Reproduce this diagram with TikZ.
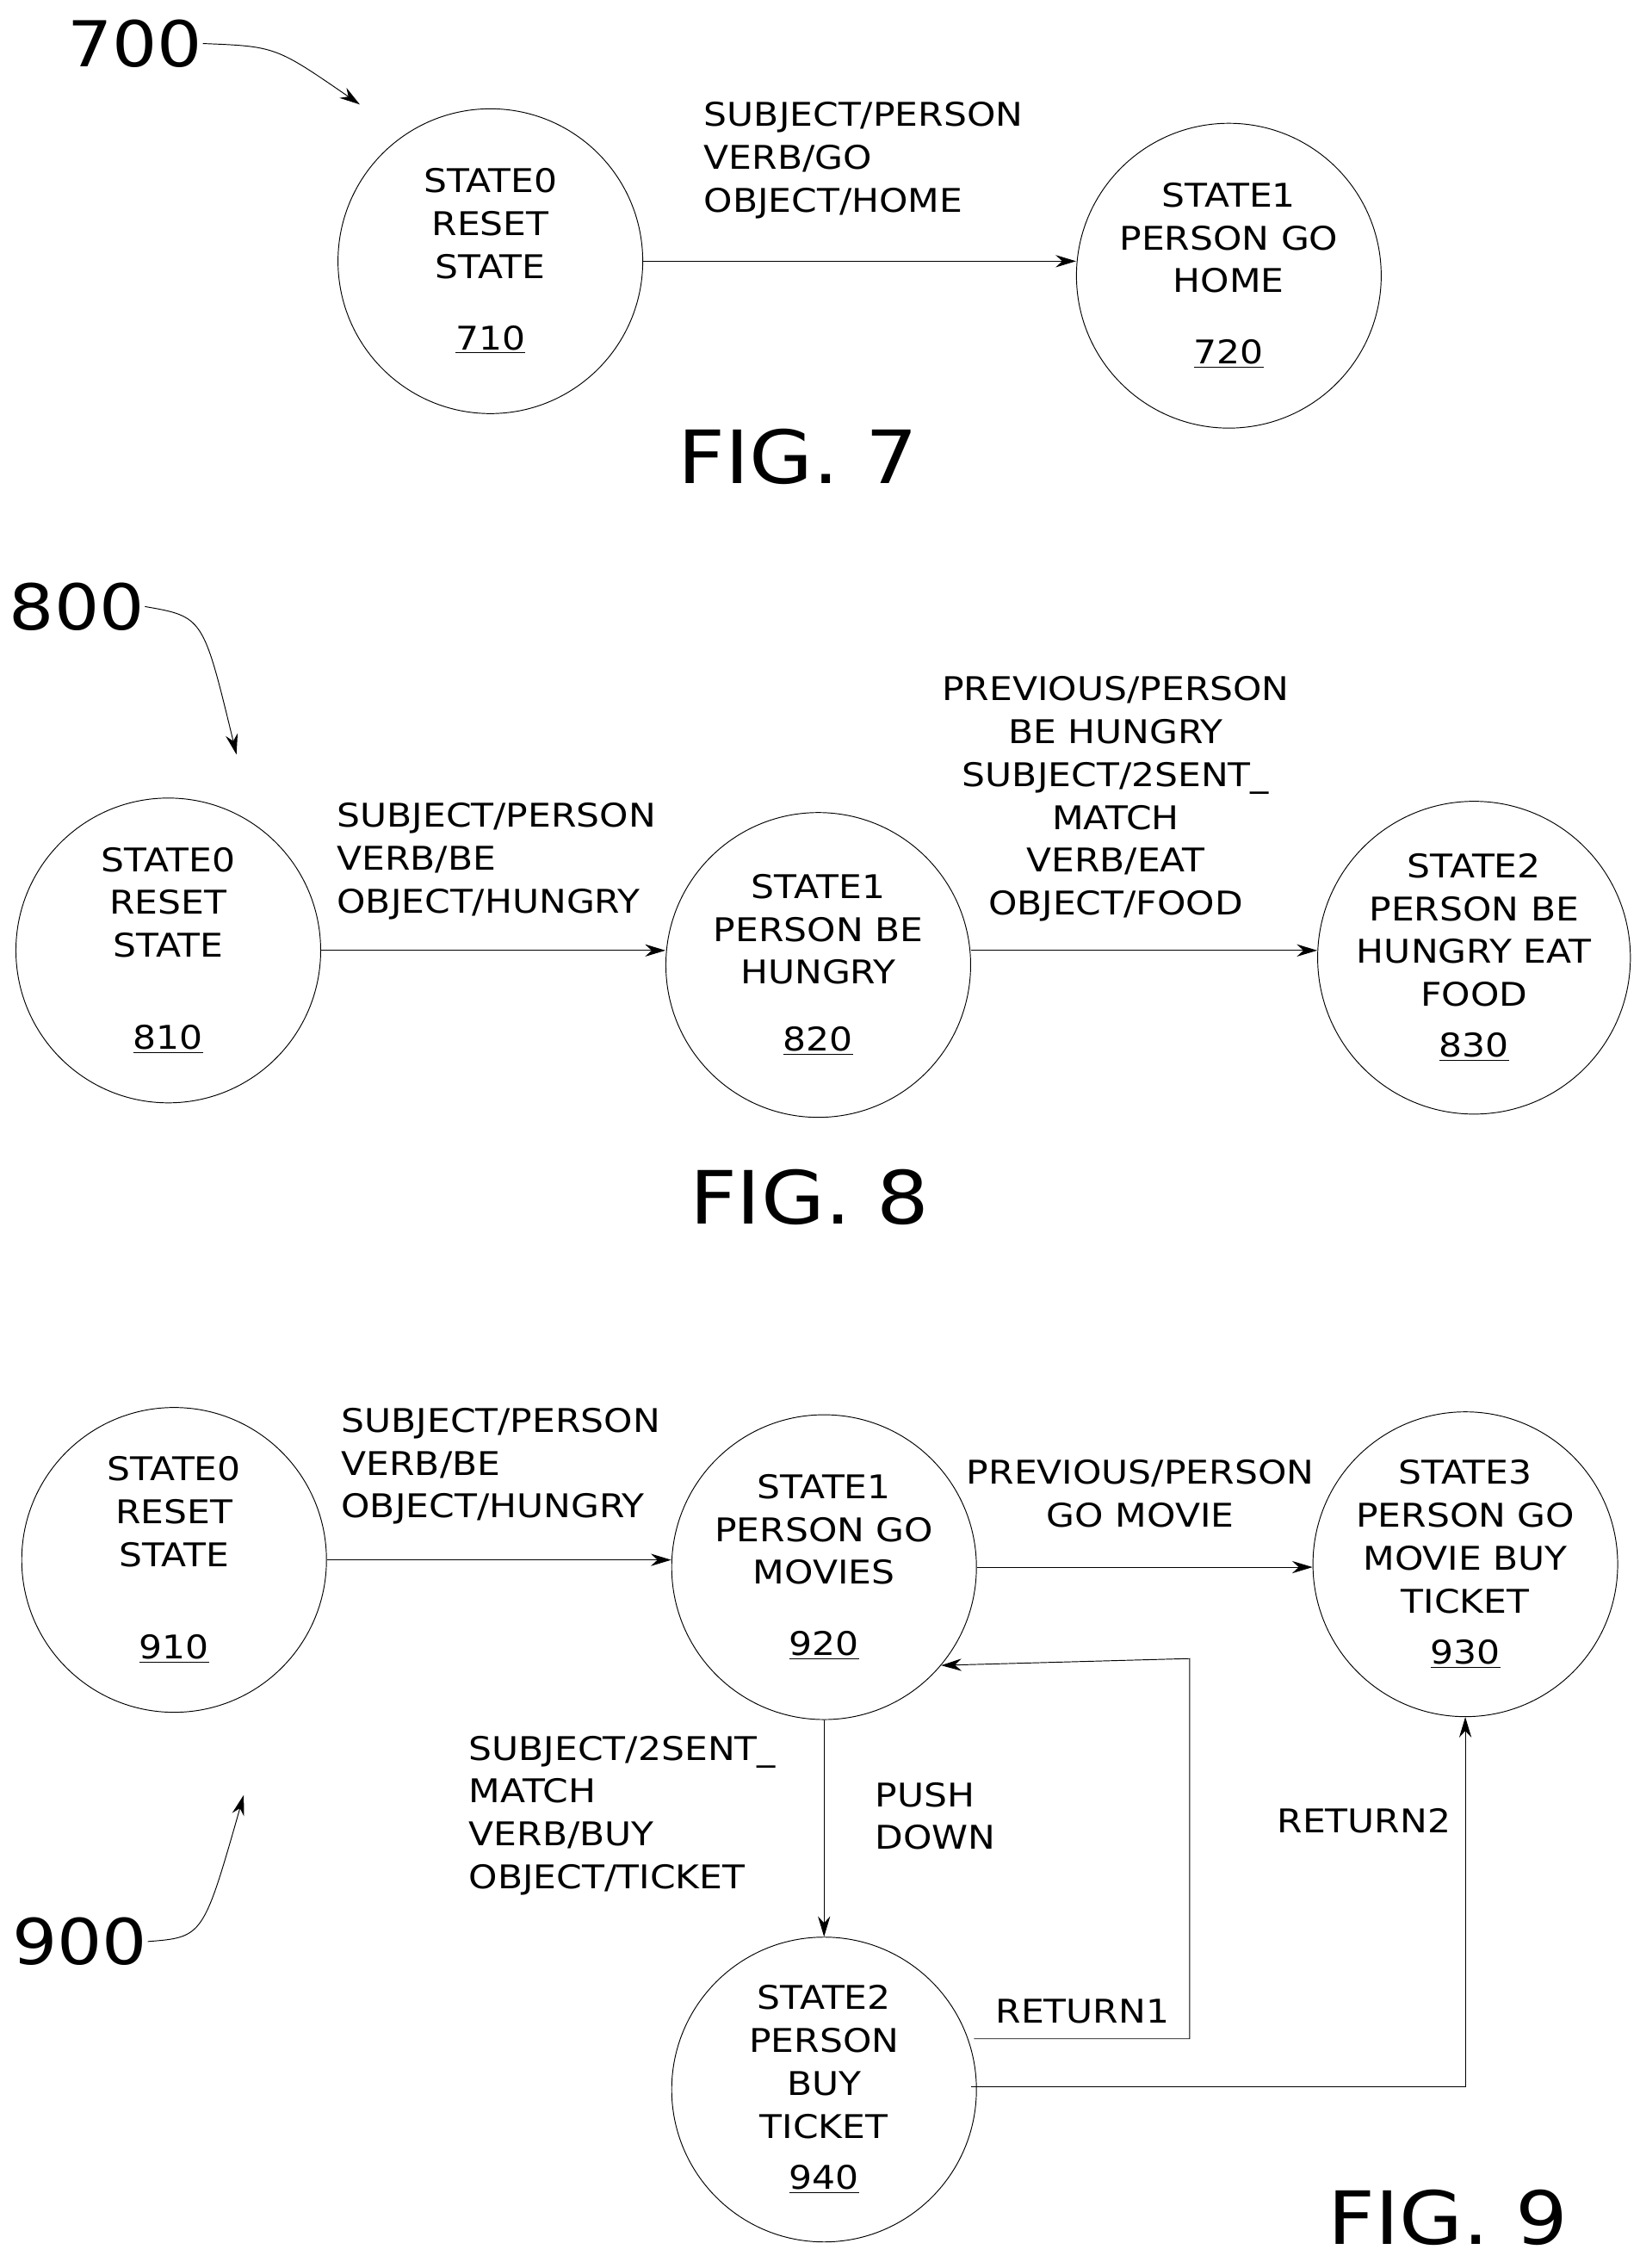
\documentclass[tikz,border=0pt]{standalone}
\usepackage{fontspec}
\setmainfont[FakeStretch=1.12]{DejaVu Sans}
\usetikzlibrary{arrows.meta}
\tikzset{
  state/.style = {circle, draw, thin, minimum size=5.25cm, inner sep=0pt, align=center, font=\fontsize{16}{21}\selectfont},
  lbl/.style = {align=left, inner sep=0pt, font=\fontsize{16}{21}\selectfont},
  trans/.style = {draw, thin, -{Stealth[length=10pt,width=6pt]}},
  fig/.style = {inner sep=0pt, font=\fontsize{36}{40}\selectfont},
  refnum/.style = {inner sep=0pt, font=\fontsize{31}{34}\selectfont}
}
\begin{document}
\begin{tikzpicture}[x=0.025cm, y=-0.025cm]
\useasboundingbox (0,0) rectangle (1130,1563);
% FIG. 7
\node[refnum] (n700) at (93,30) {700};
\node[state] (s710) at (338,180) {STATE0\\RESET\\STATE\\[14pt]\underline{710}};
\node[state] (s720) at (847,190) {STATE1\\PERSON GO\\HOME\\[14pt]\underline{720}};
\node[lbl, anchor=north west] (t71) at (485,70) {SUBJECT/PERSON\\VERB/GO\\OBJECT/HOME};
\node[fig] (f7) at (550,315) {FIG. 7};
\coordinate (p700) at (248,72);
\path[trans] (s710) -- (s710 -| s720.west);
\draw[thin, -{Stealth[length=10pt,width=6pt]}] (n700.east) .. controls (190,32) .. (p700);
% FIG. 8
\node[refnum] (n800) at (53,418) {800};
\node[state] (s810) at (116,655) {STATE0\\RESET\\STATE\\[24pt]\underline{810}};
\node[state] (s820) at (564,665) {STATE1\\PERSON BE\\HUNGRY\\[12pt]\underline{820}};
\node[state] (s830) at (1016,660) {STATE2\\PERSON BE\\HUNGRY EAT\\FOOD\\[4pt]\underline{830}};
\node[lbl, anchor=north west] (t81) at (232,553) {SUBJECT/PERSON\\VERB/BE\\OBJECT/HUNGRY};
\node[lbl, align=center, anchor=north] (t82) at (769,466) {PREVIOUS/PERSON\\BE HUNGRY\\SUBJECT/2SENT\_\\MATCH\\VERB/EAT\\OBJECT/FOOD};
\node[fig] (f8) at (558,825) {FIG. 8};
\coordinate (p800) at (163,520);
\path[trans] (s810) -- (s810 -| s820.west);
\path[trans] (s810 -| s820.east) -- (s810 -| s830.west);
\draw[thin, -{Stealth[length=10pt,width=6pt]}] (n800.east) .. controls (140,425) .. (p800);
% FIG. 9
\node[refnum] (n900) at (55,1338) {900};
\node[state] (s910) at (120,1075) {STATE0\\RESET\\STATE\\[24pt]\underline{910}};
\node[state] (s920) at (568,1080) {STATE1\\PERSON GO\\MOVIES\\[14pt]\underline{920}};
\node[state] (s930) at (1010,1078) {STATE3\\PERSON GO\\MOVIE BUY\\TICKET\\[4pt]\underline{930}};
\node[state] (s940) at (568,1440) {STATE2\\PERSON\\BUY\\TICKET\\[4pt]\underline{940}};
\node[lbl, anchor=north west] (t91) at (235,970) {SUBJECT/PERSON\\VERB/BE\\OBJECT/HUNGRY};
\node[lbl, align=center, anchor=north] (t92) at (786,1006) {PREVIOUS/PERSON\\GO MOVIE};
\node[lbl, anchor=north west] (t93) at (323,1196) {SUBJECT/2SENT\_\\MATCH\\VERB/BUY\\OBJECT/TICKET};
\node[lbl, anchor=north west] (t94) at (603,1228) {PUSH\\DOWN};
\node[lbl, anchor=west] (t95) at (880,1255) {RETURN2};
\node[lbl, anchor=west] (t96) at (686,1386) {RETURN1};
\node[fig] (f9) at (998,1528) {FIG. 9};
\coordinate (p900) at (168,1237);
\coordinate (r1a) at (820,1405);
\coordinate (r1b) at (820,1143);
\coordinate (r2a) at (1010,1438);
\path[trans] (s910.east) -- (s910.east -| s920.west);
\path[trans] (s920.east) -- (s920.east -| s930.west);
\path[trans] (s920) -- (s940);
\path[trans] (s940.east |- r1a) ++(-2,0) -- (r1a) -- (r1b) -- (s920.-40);
\path[trans] (s940.east |- r2a) ++(-4,0) -- (r2a) -- (s930.south);
\draw[thin, -{Stealth[length=10pt,width=6pt]}] (n900.east) .. controls (140,1335) .. (p900);
\end{tikzpicture}
\end{document}
